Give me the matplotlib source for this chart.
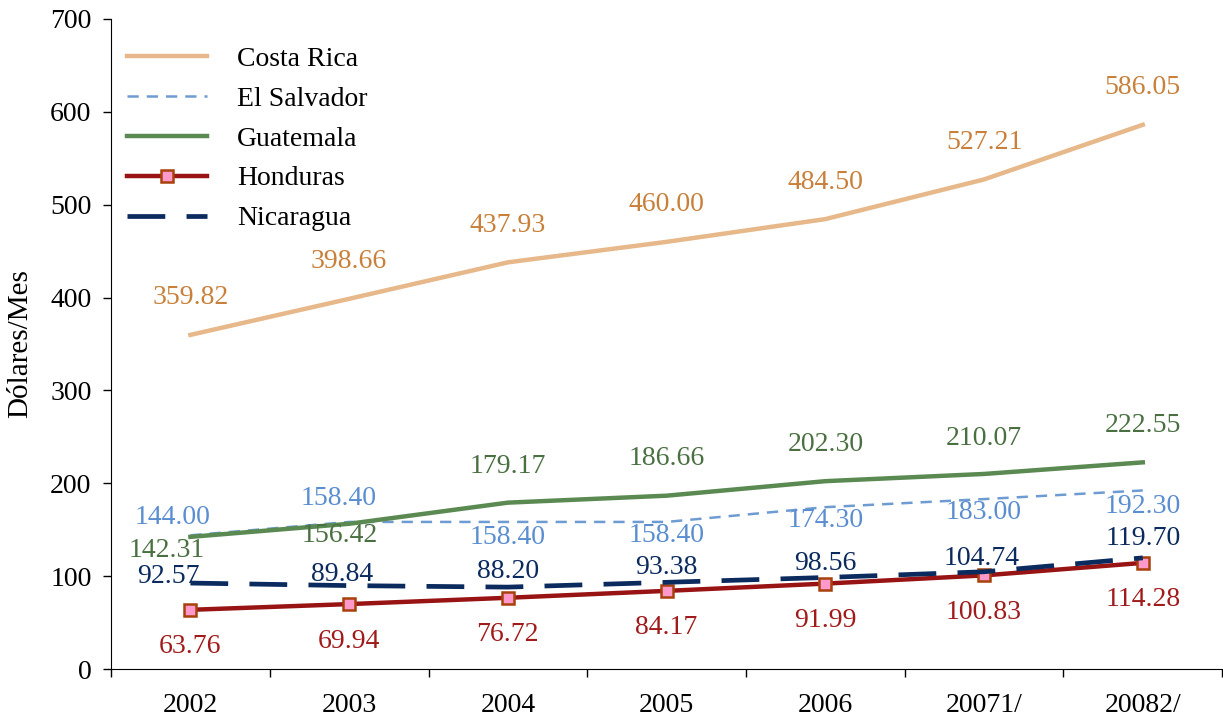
import matplotlib
matplotlib.use("Agg")
import matplotlib.pyplot as plt
import numpy as np

plt.rcParams['font.family'] = ['Liberation Serif', 'DejaVu Serif']

# data
years = ['2002', '2003', '2004', '2005', '2006', '20071/', '20082/']
costa_rica = [359.82, 398.66, 437.93, 460.00, 484.50, 527.21, 586.05]
el_salvador = [144.00, 158.40, 158.40, 158.40, 174.30, 183.00, 192.30]
guatemala = [142.31, 156.42, 179.17, 186.66, 202.30, 210.07, 222.55]
honduras = [63.76, 69.94, 76.72, 84.17, 91.99, 100.83, 114.28]
nicaragua = [92.57, 89.84, 88.20, 93.38, 98.56, 104.74, 119.70]

# label offsets (pixels, dx, dy with + = down)
off_cr = [(0, -37)] * 7
off_es = [(-18, -18), (-11, -23), (0, 16), (0, 14), (0, 13), (0, 13), (0, 16)]
off_gt = [(-24, 14), (-9, 12), (0, -36), (0, -37), (0, -37), (0, -35), (0, -37)]
off_hn = [(0, 37)] * 7
off_ni = [(-22, -7), (-7, -11), (0, -16), (0, -15), (0, -14), (-2, -13), (0, -19)]

fig = plt.figure(figsize=(12.23, 7.19), dpi=100)
ax = fig.add_axes([0.0908, 0.0695, 0.9085, 0.9041])

x = np.arange(len(years))
fs = 20

series = [
    ('Costa Rica', costa_rica, dict(color='#E6B88A', lw=3.2), '#C8803A', off_cr),
    ('El Salvador', el_salvador, dict(color='#6E9CD2', lw=1.8, dashes=(4.5, 3.2)), '#5B8ED0', off_es),
    ('Guatemala', guatemala, dict(color='#5A8A52', lw=3.2), '#4A7042', off_gt),
    ('Honduras', honduras, dict(color='#981414', lw=3.2, marker='s', markersize=8,
                                markerfacecolor='#FF99CC', markeredgecolor='#A8400C',
                                markeredgewidth=1.8), '#A01C1C', off_hn),
    ('Nicaragua', nicaragua, dict(color='#0B2A5E', lw=3.4, dashes=(8, 4.5)), '#0B2A5E', off_ni),
]

for name, vals, style, tcol, offs in series:
    ax.plot(x, vals, label=name, **style)
    for xi, v, (dx, dy) in zip(x, vals, offs):
        ax.annotate(f'{v:.2f}', (xi, v), xytext=(dx, -dy), textcoords='offset pixels',
                    ha='center', va='center', color=tcol, fontsize=fs)

ax.set_xlim(-0.5, len(years) - 0.5)
ax.set_ylim(0, 700)
ax.set_yticks(range(0, 701, 100))
ax.set_xticks(np.arange(-0.5, len(years), 1))
ax.set_xticklabels([])
ax.set_xticks(x, minor=True)
ax.set_xticklabels(years, minor=True)
ax.tick_params(axis='x', which='major', direction='out', length=6, width=1)
ax.tick_params(axis='x', which='minor', length=0, pad=17, labelsize=fs)
ax.tick_params(axis='y', direction='out', length=6, width=1, pad=8, labelsize=fs)

ax.spines['top'].set_visible(False)
ax.spines['right'].set_visible(False)
ax.set_ylabel('Dólares/Mes', fontsize=21, labelpad=12)

ax.legend(loc='upper left', bbox_to_anchor=(0.004, 0.975), borderaxespad=0, frameon=False,
          fontsize=fs, handlelength=2.9, handletextpad=1.08, labelspacing=0.52)

fig.savefig('out.png', dpi=100)
